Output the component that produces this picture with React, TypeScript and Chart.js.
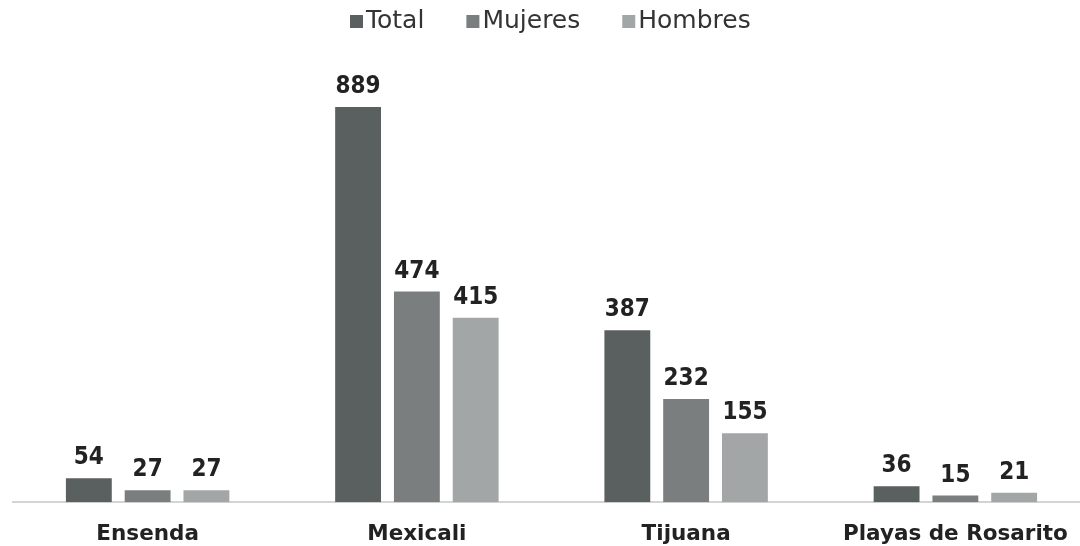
import React, { useEffect, useRef } from "react";
import { Chart, registerables } from "chart.js";

Chart.register(...registerables);

const categories = ["Ensenda", "Mexicali", "Tijuana", "Playas de Rosarito"];
const seriesNames = ["Total", "Mujeres", "Hombres"];
const totalValues = [54, 889, 387, 36];
const mujeresValues = [27, 474, 232, 15];
const hombresValues = [27, 415, 155, 21];
const seriesColors = ["#5a5f5f", "#7a7e7e", "#a2a6a6"];

const valueLabels = {
  id: "valueLabels",
  afterDatasetsDraw(chart: any) {
    const ctx = chart.ctx;
    ctx.save();
    ctx.font = "bold 24px 'DejaVu Sans Condensed', 'DejaVu Sans'";
    ctx.fillStyle = "#222";
    ctx.textAlign = "center";
    ctx.textBaseline = "alphabetic";
    chart.data.datasets.forEach((ds: any, i: number) => {
      const meta = chart.getDatasetMeta(i);
      meta.data.forEach((bar: any, j: number) => {
        ctx.fillText(String(ds.data[j]), bar.x, bar.y - 14);
      });
    });
    ctx.restore();
  },
};

const customLegend = {
  id: "customLegend",
  afterDraw(chart: any) {
    const ctx = chart.ctx;
    ctx.save();
    ctx.font = "25px 'DejaVu Sans'";
    ctx.textBaseline = "alphabetic";
    ctx.textAlign = "left";
    const itemGap = 42;
    const boxSize = 13;
    const boxGap = 3;
    let x = 350;
    const baseline = 28;
    seriesNames.forEach((n, i) => {
      ctx.fillStyle = seriesColors[i];
      ctx.fillRect(x, baseline - boxSize, boxSize, boxSize);
      ctx.fillStyle = "#333";
      ctx.fillText(n, x + boxSize + boxGap, baseline);
      x += boxSize + boxGap + ctx.measureText(n).width + itemGap;
    });
    ctx.restore();
  },
};

export default function App() {
  const ref = useRef<HTMLCanvasElement>(null);
  useEffect(() => {
    const chart = new Chart(ref.current!, {
      type: "bar",
      data: {
        labels: categories,
        datasets: [totalValues, mujeresValues, hombresValues].map((d, i) => ({
          label: seriesNames[i],
          data: d,
          backgroundColor: seriesColors[i],
          barPercentage: 0.78,
          categoryPercentage: 0.655,
        })),
      },
      options: {
        animation: false,
        responsive: false,
        maintainAspectRatio: false,
        layout: { padding: { left: 13, right: 0, top: 40, bottom: 0 } },
        plugins: {
          legend: { display: false },
          tooltip: { enabled: false },
        },
        scales: {
          x: {
            grid: { display: false },
            border: { color: "#d4d4d4", width: 2 },
            ticks: {
              color: "#222",
              font: { size: 21.5, weight: "bold", family: "'DejaVu Sans'" },
              padding: 11,
              maxRotation: 0,
            },
          },
          y: {
            display: false,
            min: 0,
            max: 1040,
          },
        },
      },
      plugins: [valueLabels, customLegend],
    });
    return () => chart.destroy();
  }, []);
  return (
    <div style={{ position: "fixed", left: 0, top: 0, width: 1080, height: 546, overflow: "hidden", background: "#fff" }}>
      <canvas ref={ref} width={1090} height={558} />
    </div>
  );
}
